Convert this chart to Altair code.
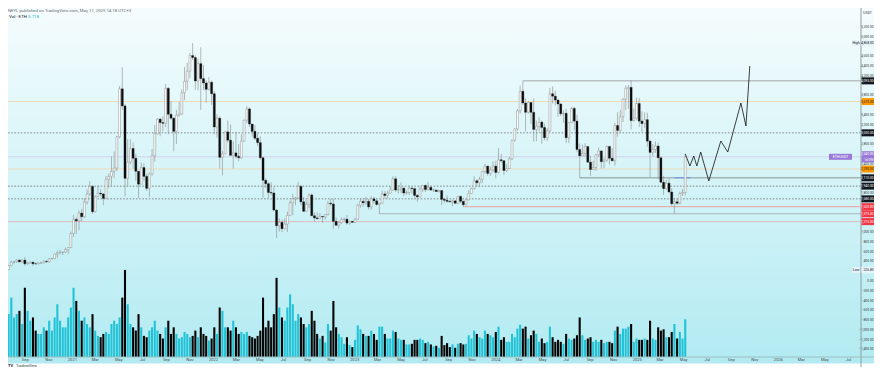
import altair as alt
import pandas as pd

alt.data_transformers.disable_max_rows()

W, H = 853, 349
PR, PB = 13, 10          # right / bottom room so the page does not overflow
YMIN, YMAX = -1554, 5583
VMAX = 52.9
PXU = 20.45  # price units per pixel (for label box half-heights)

FIRST_WEEK = "2020-06-29"
FIRST_OPEN = 228

close_2020 = [229, 239, 236, 311, 387, 395, 429, 391, 428, 353, 366, 385, 354, 352, 366, 369, 406, 396, 454, 460, 550, 575, 590, 590, 640, 685, 975]
high_2020 = [245, 250, 245, 330, 415, 400, 445, 440, 440, 488, 390, 395, 387, 380, 380, 394, 420, 415, 470, 477, 560, 620, 635, 600, 680, 690, 1010]
low_2020 = [226.83, 228, 230, 235, 305, 355, 370, 380, 375, 310, 330, 360, 310, 334, 340, 360, 365, 370, 375, 440, 440, 480, 545, 530, 580, 560, 680]
vol_2020 = [3.0, 3.5, 2.6, 6.5, 9.0, 6.0, 6.5, 7.0, 5.0, 10.5, 7.0, 5.5, 6.0, 4.0, 3.5, 3.5, 4.5, 4.0, 5.5, 4.0, 6.0, 8.0, 5.5, 4.5, 4.5, 6.0, 7.5]

close_2021 = [1260, 1230, 1390, 1315, 1614, 1780, 1935, 1416, 1723, 1795, 1780, 1690, 2080, 2140, 2240, 2310, 2950, 3930, 3580, 2100, 2430, 2710, 2510, 2245, 1980, 2320, 2140, 1895, 2190, 2560, 3010, 3310, 3240, 3225, 3940, 3410, 3330, 3060, 3390, 3415, 3850, 4085, 4290, 4610, 4570, 4090, 4445, 4140, 4050, 3920, 4065, 3830]
high_2021 = [1350, 1300, 1440, 1470, 1690, 1870, 2040, 1950, 1750, 1950, 1880, 1800, 2150, 2200, 2550, 2650, 2970, 3990, 4372, 3620, 2900, 2900, 2830, 2600, 2250, 2420, 2410, 2190, 2220, 2700, 3190, 3330, 3340, 3370, 4030, 3970, 3680, 3350, 3500, 3660, 3920, 4380, 4460, 4665, 4868, 4610, 4550, 4780, 4420, 4110, 4170, 4100]
low_2021 = [900, 960, 1040, 1220, 1290, 1560, 1740, 1370, 1400, 1720, 1730, 1550, 1680, 1900, 1950, 2100, 2250, 2920, 3500, 1730, 1950, 2380, 2300, 2050, 1700, 1970, 2040, 1840, 1720, 2150, 2440, 3000, 2960, 3060, 3150, 3000, 3300, 2650, 2800, 3360, 3400, 3700, 3900, 4150, 4520, 3910, 3900, 3500, 3900, 3640, 3890, 3600]
vol_2021 = [10.5, 8.5, 7.0, 5.5, 6.0, 5.0, 4.5, 6.5, 4.0, 3.2, 3.0, 3.5, 3.8, 3.5, 5.0, 5.5, 5.0, 6.0, 9.0, 13.2, 8.0, 5.0, 4.5, 4.0, 6.5, 4.5, 3.2, 3.0, 4.0, 4.5, 5.5, 4.0, 3.5, 2.8, 4.5, 5.5, 3.5, 4.5, 3.5, 2.8, 3.0, 3.8, 3.5, 3.0, 3.2, 4.0, 3.0, 4.5, 3.5, 3.2, 2.5, 2.8]

close_2022 = [3150, 3330, 2530, 2600, 3050, 2880, 2570, 2620, 2550, 2520, 2860, 3290, 3520, 3210, 3060, 2920, 2830, 2520, 2060, 1990, 1810, 1800, 1450, 1130, 1200, 1070, 1165, 1340, 1600, 1680, 1700, 1935, 1620, 1425, 1570, 1760, 1335, 1290, 1275, 1320, 1310, 1360, 1590, 1575, 1220, 1140, 1195, 1260, 1265, 1185, 1220, 1200]
high_2022 = [3880, 3410, 3370, 2660, 3060, 3280, 3200, 2850, 3050, 2800, 3000, 3300, 3580, 3550, 3210, 3190, 3030, 2960, 2530, 2100, 2020, 2020, 1920, 1470, 1280, 1250, 1280, 1420, 1650, 1780, 1720, 2030, 1960, 1720, 1650, 1790, 1790, 1400, 1400, 1390, 1330, 1370, 1640, 1680, 1680, 1300, 1230, 1300, 1290, 1350, 1230, 1230]
low_2022 = [3000, 2930, 2300, 2160, 2600, 2830, 2560, 2300, 2500, 2450, 2500, 2850, 3230, 3150, 2950, 2880, 2760, 2480, 1700, 1900, 1700, 1750, 1440, 880, 1010, 1000, 1050, 1000, 1340, 1350, 1550, 1680, 1550, 1420, 1420, 1490, 1330, 1220, 1260, 1270, 1190, 1260, 1340, 1540, 1070, 1130, 1070, 1170, 1220, 1150, 1150, 1190]
vol_2022 = [4.5, 3.5, 7.5, 7.0, 4.5, 4.5, 4.0, 5.5, 4.5, 3.5, 3.8, 3.5, 3.8, 3.2, 3.0, 2.8, 3.2, 4.0, 9.0, 4.5, 5.5, 4.5, 6.5, 12.0, 7.5, 6.0, 5.5, 7.5, 9.5, 8.0, 5.5, 6.5, 6.0, 5.0, 4.5, 5.0, 7.0, 5.5, 3.5, 2.8, 3.2, 2.2, 5.0, 4.0, 8.5, 4.5, 3.5, 3.0, 2.0, 3.0, 1.8, 1.5]

close_2023 = [1265, 1550, 1630, 1600, 1630, 1515, 1680, 1640, 1565, 1590, 1780, 1750, 1795, 1860, 2090, 1860, 1870, 1900, 1800, 1810, 1900, 1890, 1750, 1720, 1880, 1955, 1870, 1915, 1860, 1860, 1830, 1850, 1670, 1650, 1630, 1620, 1640, 1590, 1730, 1630, 1560, 1660, 1790, 1890, 2050, 2010, 2080, 2240, 2350, 2200, 2270, 2350]
high_2023 = [1290, 1580, 1680, 1670, 1720, 1680, 1740, 1720, 1670, 1600, 1850, 1840, 1840, 1940, 2140, 2140, 1960, 2020, 1910, 1850, 1930, 1930, 1900, 1780, 1930, 1960, 1970, 2030, 1950, 1890, 1870, 1870, 1860, 1700, 1750, 1660, 1660, 1650, 1740, 1750, 1640, 1680, 1860, 1910, 2140, 2080, 2130, 2250, 2400, 2350, 2340, 2450]
low_2023 = [1190, 1260, 1500, 1520, 1550, 1460, 1460, 1580, 1540, 1370, 1580, 1680, 1690, 1790, 1850, 1820, 1790, 1800, 1740, 1760, 1760, 1780, 1690, 1620, 1720, 1820, 1820, 1850, 1850, 1820, 1820, 1810, 1550, 1600, 1600, 1600, 1530, 1580, 1570, 1590, 1520, 1550, 1650, 1780, 1870, 1930, 1930, 2000, 2200, 2150, 2150, 2230]
vol_2023 = [2.6, 4.8, 4.2, 3.5, 3.2, 3.2, 4.0, 3.5, 2.6, 4.6, 4.6, 3.5, 2.8, 2.8, 4.0, 3.8, 2.8, 2.6, 2.6, 1.9, 1.9, 2.0, 2.6, 2.6, 2.8, 2.6, 2.1, 2.3, 1.9, 1.6, 1.7, 1.4, 3.2, 1.8, 2.1, 1.5, 1.9, 1.4, 2.0, 2.1, 1.9, 2.0, 3.3, 2.8, 4.0, 3.5, 3.0, 2.8, 4.0, 3.5, 3.3, 3.0]

close_2024 = [2220, 2480, 2460, 2260, 2300, 2500, 2880, 3110, 3480, 3880, 3640, 3450, 3650, 3450, 3100, 3160, 3250, 3140, 2930, 3070, 3830, 3780, 3700, 3620, 3420, 3430, 2930, 3240, 3530, 3270, 2690, 2560, 2610, 2750, 2430, 2280, 2320, 2580, 2660, 2440, 2470, 2750, 2510, 2460, 3180, 3080, 3360, 3720, 3940, 3960, 3280, 3330, 3630]
high_2024 = [2460, 2720, 2600, 2470, 2390, 2540, 2890, 3120, 3520, 4000, 4093, 3740, 3680, 3660, 3730, 3280, 3350, 3280, 3220, 3130, 3950, 3980, 3890, 3720, 3640, 3490, 3520, 3250, 3560, 3560, 3400, 2810, 2790, 2820, 2760, 2560, 2460, 2590, 2730, 2670, 2520, 2770, 2770, 2720, 3230, 3450, 3500, 3740, 4000, 4010, 4107, 3530, 3750]
low_2024 = [2100, 2200, 2420, 2170, 2230, 2290, 2470, 2850, 3070, 3420, 3600, 3060, 3420, 3210, 2850, 2860, 3060, 2810, 2880, 2860, 3050, 3630, 3590, 3360, 3370, 3240, 2820, 2820, 3230, 3080, 2630, 2110, 2550, 2540, 2420, 2150, 2270, 2250, 2540, 2300, 2310, 2440, 2380, 2440, 2360, 2950, 3030, 3250, 3500, 3520, 3100, 3260, 3300]
vol_2024 = [3.8, 4.6, 2.6, 3.0, 2.3, 2.3, 3.5, 3.0, 4.3, 4.9, 4.3, 4.6, 2.8, 3.3, 4.0, 3.5, 2.3, 2.8, 2.1, 2.3, 4.6, 3.0, 2.3, 2.6, 2.3, 2.0, 3.5, 2.8, 2.6, 2.8, 3.3, 6.0, 3.3, 2.6, 2.8, 3.0, 2.3, 2.6, 2.3, 2.6, 2.1, 2.3, 2.3, 2.1, 4.0, 4.6, 3.5, 4.3, 4.3, 4.6, 5.0, 2.3, 2.8]

close_2025 = [3270, 3220, 3300, 2860, 2630, 2690, 2760, 2520, 2020, 1890, 2000, 1820, 1580, 1620, 1590, 1790, 1810, 2540]
high_2025 = [3740, 3470, 3450, 3440, 2880, 2800, 2850, 2830, 2550, 2150, 2070, 2100, 1900, 1690, 1690, 1830, 1880, 2600]
low_2025 = [3150, 3050, 3130, 2750, 2120, 2550, 2620, 2080, 2000, 1760, 1870, 1790, 1540, 1385, 1560, 1570, 1740, 1750]
vol_2025 = [2.6, 2.6, 2.8, 2.6, 5.5, 2.8, 2.6, 4.5, 4.0, 4.2, 3.0, 3.0, 3.8, 5.0, 2.8, 3.8, 2.8, 5.718]

# projection zig-zag drawn after the last candle
zz_dates = ["2025-05-05", "2025-05-17", "2025-05-27", "2025-06-04", "2025-06-14", "2025-07-05", "2025-08-05", "2025-08-23", "2025-09-26", "2025-10-09", "2025-10-19"]
zz_price = [2600, 2352, 2556, 2352, 2638, 2045, 2863, 2638, 3640, 3170, 4397]

# horizontal levels
full_solid_price = [3670, 2290, 2540, 1215]
full_solid_color = ["#f1d3a6", "#f1d3a6", "#cfcaee", "#e2aab0"]
dotted_price = [3030, 1940, 1680]
part_start = ["2024-03-11T00:00:00", "2024-08-05T00:00:00", "2023-10-09T00:00:00", "2023-03-06T00:00:00"]
part_price = [4093, 2110, 1520, 1375]
part_color = ["#8e8e8e", "#7a7a7a", "#f08c8c", "#a3a3a3"]

# price-scale labels
tag_price = [4093, 3030, 2110, 1940, 1680, 3670, 2290, 1520, 1375, 1215]
tag_fill = ["#131722", "#131722", "#131722", "#131722", "#131722", "#ff9800", "#ff9800", "#f23645", "#f23645", "#f23645"]
tag_text = ["#ffffff", "#ffffff", "#ffffff", "#ffffff", "#ffffff", "#131722", "#131722", "#ffffff", "#ffffff", "#ffffff"]
last_price = 2540
hl_price = [4868, 226.83]
hl_name = ["High", "Low"]

# scale tick labels left visible (the others sit under the price labels)
y_ticks = [-1400, -1200, -1000, -800, -600, -400, -200, 0, 400, 600, 800, 1000, 1800, 2400, 2800, 3200, 3400, 3800, 4200, 4400, 4600, 5000, 5200]
x_ticks = ["2020-09", "2020-11", "2021-01", "2021-03", "2021-05", "2021-07", "2021-09", "2021-11",
           "2022-01", "2022-03", "2022-05", "2022-07", "2022-09", "2022-11",
           "2023-01", "2023-03", "2023-05", "2023-07", "2023-09", "2023-11",
           "2024-01", "2024-03", "2024-05", "2024-07", "2024-09", "2024-11",
           "2025-01", "2025-03", "2025-05", "2025-07", "2025-09", "2025-11",
           "2026-01", "2026-03", "2026-05", "2026-07"]

# ---------------- build tables
close = close_2020 + close_2021 + close_2022 + close_2023 + close_2024 + close_2025
high = high_2020 + high_2021 + high_2022 + high_2023 + high_2024 + high_2025
low = low_2020 + low_2021 + low_2022 + low_2023 + low_2024 + low_2025
vol = vol_2020 + vol_2021 + vol_2022 + vol_2023 + vol_2024 + vol_2025
n = len(close)
assert len(high) == n and len(low) == n and len(vol) == n
dates = pd.date_range(FIRST_WEEK, periods=n, freq="7D")
opens = [FIRST_OPEN] + close[:-1]
df = pd.DataFrame({"date": dates, "open": opens, "high": high, "low": low, "close": close, "vol": vol})

FONT = "Roboto"
XS = alt.Scale(domain=[alt.DateTime(year=2020, month=7, date=18, hours=10),
                       alt.DateTime(year=2026, month=8, date=2, hours=14)], nice=False, padding=0)
YS = alt.Scale(domain=[YMIN, YMAX], nice=False, zero=False, padding=0)
VS = alt.Scale(domain=[0, VMAX], nice=False, zero=True, padding=0)

one = alt.Data(values=[{"a": 1}])

grad = alt.Chart(one).mark_rect(fill={"gradient": "linear", "x1": 0, "x2": 0, "y1": 0, "y2": 1,
                                      "stops": [{"offset": 0, "color": "#f5fcfd"}, {"offset": 1, "color": "#b3ebf2"}]}).encode(
    x=alt.value(0), x2=alt.value(W + PR), y=alt.value(0), y2=alt.value(H))

band = alt.Chart(one).mark_rect(fill="#b3eaf1").encode(
    x=alt.value(0), x2=alt.value(W + PR), y=alt.value(H), y2=alt.value(H + 6.5))
band_line = alt.Chart(one).mark_rule(color="#9dbfc3", strokeWidth=1).encode(
    x=alt.value(0), x2=alt.value(W + PR), y=alt.value(H))
axis_line = alt.Chart(one).mark_rule(color="#8e9ea1", strokeWidth=1).encode(
    x=alt.value(W), y=alt.value(0), y2=alt.value(H + PB))

TXR = W + PR - 0.4   # right edge for price-scale texts
LBL = 3.3            # price-scale font size

# tick labels as text
yt_df = pd.DataFrame({"price": y_ticks})
y_labels = alt.Chart(yt_df).mark_text(align="right", baseline="middle", fontSize=LBL, font=FONT, color="#3a3a3a").encode(
    x=alt.value(TXR), y=alt.Y("price:Q", scale=YS, axis=None), text=alt.Text("price:Q", format=",.2f"))

month_abbr = {3: "Mar", 5: "May", 7: "Jul", 9: "Sep", 11: "Nov"}
xt_df = pd.DataFrame({
    "d": pd.to_datetime([s + "-01" for s in x_ticks]),
    "lab": [s[:4] if s[5:] == "01" else month_abbr[int(s[5:])] for s in x_ticks],
})
x_labels = alt.Chart(xt_df).mark_text(align="center", baseline="middle", fontSize=4.1, font=FONT, color="#4a4a4a").encode(
    x=alt.X("d:T", scale=XS, axis=None), y=alt.value(H + 3.4), text="lab:N")

up_expr = "datum.close >= datum.open"
volume = alt.Chart(df).mark_bar(size=2.1).encode(
    x=alt.X("date:T", scale=XS, axis=None),
    y=alt.Y("vol:Q", scale=VS, axis=None),
    color=alt.condition(up_expr, alt.value("#22c3d6"), alt.value("#050505")))

wick = alt.Chart(df).mark_rule(color="#8a8a8a", strokeWidth=0.6).encode(
    x=alt.X("date:T", scale=XS, axis=None),
    y=alt.Y("low:Q", scale=YS, axis=None), y2="high:Q")
body_up = alt.Chart(df).transform_filter(up_expr).mark_bar(size=1.9, fill="#ffffff", stroke="#8f8f8f", strokeWidth=0.5).encode(
    x=alt.X("date:T", scale=XS, axis=None), y=alt.Y("open:Q", scale=YS, axis=None), y2="close:Q")
body_dn = alt.Chart(df).transform_filter("datum.close < datum.open").mark_bar(size=2.1, fill="#0d0d0d", stroke="#0d0d0d", strokeWidth=0.3).encode(
    x=alt.X("date:T", scale=XS, axis=None), y=alt.Y("open:Q", scale=YS, axis=None), y2="close:Q")

full_df = pd.DataFrame({"price": full_solid_price, "color": full_solid_color})
full_lines = alt.Chart(full_df).mark_rule(strokeWidth=0.8).encode(
    y=alt.Y("price:Q", scale=YS, axis=None), x=alt.value(0), x2=alt.value(W),
    color=alt.Color("color:N", scale=None))
dot_df = pd.DataFrame({"price": dotted_price})
dot_lines = alt.Chart(dot_df).mark_rule(strokeWidth=0.7, color="#5f5f5f", strokeDash=[1.6, 1.6]).encode(
    y=alt.Y("price:Q", scale=YS, axis=None), x=alt.value(0), x2=alt.value(W))
part_df = pd.DataFrame({"start": part_start, "price": part_price, "color": part_color})
part_lines = alt.Chart(part_df).mark_rule(strokeWidth=0.8).encode(
    x=alt.X("start:T", scale=XS, axis=None), x2=alt.value(W),
    y=alt.Y("price:Q", scale=YS, axis=None), color=alt.Color("color:N", scale=None))
blue_df = pd.DataFrame({"s": ["2025-04-07T00:00:00"], "e": ["2025-05-19T00:00:00"], "price": [2110]})
blue_line = alt.Chart(blue_df).mark_rule(strokeWidth=0.9, color="#6b8fe6").encode(
    x=alt.X("s:T", scale=XS, axis=None), x2="e:T", y=alt.Y("price:Q", scale=YS, axis=None))

zz_df = pd.DataFrame({"d": pd.to_datetime(zz_dates), "p": zz_price, "i": list(range(len(zz_price)))})
zigzag = alt.Chart(zz_df).mark_line(color="#111111", strokeWidth=0.8).encode(
    x=alt.X("d:T", scale=XS, axis=None), y=alt.Y("p:Q", scale=YS, axis=None), order="i:Q")

BX1, BX2 = W + 0.5, W + PR
tag_df = pd.DataFrame({"price": tag_price, "fill": tag_fill, "tc": tag_text})
tag_box = alt.Chart(tag_df).transform_calculate(lo=f"datum.price - {3.5 * PXU}", hi=f"datum.price + {3.5 * PXU}").mark_rect().encode(
    x=alt.value(BX1), x2=alt.value(BX2), y=alt.Y("lo:Q", scale=YS, axis=None), y2="hi:Q",
    color=alt.Color("fill:N", scale=None))
tag_txt = alt.Chart(tag_df).mark_text(align="right", baseline="middle", fontSize=LBL, font=FONT).encode(
    x=alt.value(TXR), y=alt.Y("price:Q", scale=YS, axis=None), text=alt.Text("price:Q", format=",.2f"),
    color=alt.Color("tc:N", scale=None))

lp_df = pd.DataFrame({"price": [last_price], "t2": ["1d 09h"], "sym": ["ETHUSDT"]})
lp_box = alt.Chart(lp_df).transform_calculate(lo=f"datum.price - {5.6 * PXU}", hi=f"datum.price + {5.6 * PXU}").mark_rect(color="#9a7ad6").encode(
    x=alt.value(BX1), x2=alt.value(BX2), y=alt.Y("lo:Q", scale=YS, axis=None), y2="hi:Q")
lp_txt1 = alt.Chart(lp_df).mark_text(align="right", baseline="middle", fontSize=LBL, font=FONT, color="#ffffff", dy=-2.4).encode(
    x=alt.value(TXR), y=alt.Y("price:Q", scale=YS, axis=None), text=alt.Text("price:Q", format=",.2f"))
lp_txt2 = alt.Chart(lp_df).mark_text(align="right", baseline="middle", fontSize=3.1, font=FONT, color="#ffffff", dy=2.6).encode(
    x=alt.value(TXR), y=alt.Y("price:Q", scale=YS, axis=None), text="t2:N")
lp_tag = alt.Chart(lp_df).transform_calculate(lo=f"datum.price - {3.0 * PXU}", hi=f"datum.price + {3.0 * PXU}").mark_rect(color="#9a7ad6").encode(
    x=alt.value(W - 32), x2=alt.value(W - 9), y=alt.Y("lo:Q", scale=YS, axis=None), y2="hi:Q")
lp_tagt = alt.Chart(lp_df).mark_text(align="center", baseline="middle", fontSize=3.6, font=FONT, color="#ffffff").encode(
    x=alt.value(W - 20.5), y=alt.Y("price:Q", scale=YS, axis=None), text="sym:N")

hl_df = pd.DataFrame({"price": hl_price, "name": hl_name})
hl_box = alt.Chart(hl_df).transform_calculate(lo=f"datum.price - {3.3 * PXU}", hi=f"datum.price + {3.3 * PXU}").mark_rect(color="#e6f3f9").encode(
    x=alt.value(BX1), x2=alt.value(BX2), y=alt.Y("lo:Q", scale=YS, axis=None), y2="hi:Q")
hl_txt = alt.Chart(hl_df).mark_text(align="right", baseline="middle", fontSize=LBL, font=FONT, color="#131722").encode(
    x=alt.value(TXR), y=alt.Y("price:Q", scale=YS, axis=None), text=alt.Text("price:Q", format=",.2f"))
hl_tag = alt.Chart(hl_df).transform_calculate(lo=f"datum.price - {3.0 * PXU}", hi=f"datum.price + {3.0 * PXU}").mark_rect(color="#e6f3f9").encode(
    x=alt.value(W - 9), x2=alt.value(W - 1), y=alt.Y("lo:Q", scale=YS, axis=None), y2="hi:Q")
hl_tagt = alt.Chart(hl_df).mark_text(align="center", baseline="middle", fontSize=3.5, font=FONT, color="#131722").encode(
    x=alt.value(W - 5), y=alt.Y("price:Q", scale=YS, axis=None), text="name:N")

texts_df = pd.DataFrame({
    "t": ["NEYL published on TradingView.com, May 11, 2025 14:18 UTC+3", "Vol · ETH", "5.718", "USDT", "TradingView", "TV"],
    "x": [0, 1, 20, W + 6.5, 8, 0],
    "y": [2.6, 8.5, 8.5, 5, H + 8.6, H + 8.6],
    "c": ["#6a6d78", "#131722", "#1fb5c8", "#3a3a3a", "#3a3a3a", "#131722"],
    "s": [4.3, 4.4, 4.4, 3.6, 3.8, 4.0],
    "a": ["left", "left", "left", "center", "left", "left"],
})
texts = alt.layer(*[
    alt.Chart(alt.Data(values=[{"t": r.t}])).mark_text(align=r.a, baseline="middle", fontSize=r.s, font=FONT,
                                                      color=r.c, fontWeight=("bold" if r.t == "TV" else "normal")).encode(
        x=alt.value(r.x), y=alt.value(r.y), text="t:N")
    for r in texts_df.itertuples()
])

chart = alt.layer(
    grad, band, volume, y_labels, x_labels, full_lines, dot_lines, part_lines, blue_line,
    wick, body_up, body_dn, zigzag, band_line, axis_line,
    tag_box, tag_txt, lp_tag, lp_tagt, lp_box, lp_txt1, lp_txt2, hl_tag, hl_tagt, hl_box, hl_txt, texts
).resolve_scale(y="independent").properties(
    width=W, height=H, autosize="none",
    padding={"left": 0, "top": 0, "right": PR, "bottom": PB},
    background="#ffffff",
).configure_view(strokeWidth=0)

chart.save("out.html", embed_options={"renderer": "svg", "actions": False})
